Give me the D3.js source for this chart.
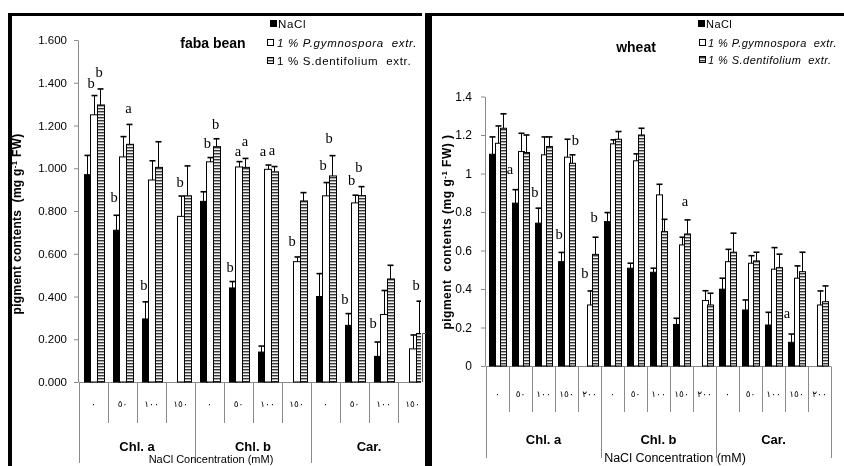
<!DOCTYPE html>
<html><head><meta charset="utf-8">
<script src="https://cdn.jsdelivr.net/npm/d3@7"></script>
<style>body{margin:0;background:#fff} svg{display:block;filter:grayscale(100%)} text{white-space:pre}</style>
</head><body>
<svg id="c" width="844" height="466"></svg>
<script>
// ---------- DATA ----------
const groups = ["Chl. a", "Chl. b", "Car."];
const fabaLevels = ["٠", "٥٠", "١٠٠", "١٥٠"];
const wheatLevels = ["٠", "٥٠", "١٠٠", "١٥٠", "٢٠٠"];
const seriesNames = ["NaCl", "1 % P.gymnospora  extr.", "1 % S.dentifolium  extr."];
const fabaTicks = [0, 0.2, 0.4, 0.6, 0.8, 1.0, 1.2, 1.4, 1.6];
const wheatTicks = [0, 0.2, 0.4, 0.6, 0.8, 1, 1.2, 1.4];

// faba bean: 12 categories (Chl.a 0..150, Chl.b 0..150, Car. 0..150)
const fabaNaCl     = [0.970, 0.710, 0.295, null, 0.845, 0.440, 0.140, null, 0.400, 0.265, 0.120, null];
const fabaNaClErr  = [0.090, 0.070, 0.080, null, 0.045, 0.030, 0.028, null, 0.107, 0.055, 0.067, null];
const fabaPgym     = [1.250, 1.053, 0.945, 0.775, 1.030, 1.006, 0.995, 0.563, 0.871, 0.838, 0.316, 0.155];
const fabaPgymErr  = [0.090, 0.095, 0.090, 0.095, 0.020, 0.025, 0.020, 0.022, 0.062, 0.036, 0.112, 0.065];
const fabaSden     = [1.296, 1.112, 1.004, 0.871, 1.101, 1.004, 0.983, 0.847, 0.964, 0.872, 0.482, 0.227];
const fabaSdenErr  = [0.075, 0.093, 0.120, 0.140, 0.037, 0.042, 0.025, 0.039, 0.095, 0.042, 0.064, 0.151];
// significance letters: [position in category units, value, letter]
const fabaLetters = [
  [0.414, 1.375, "b"], [0.690, 1.427, "b"], [1.207, 0.842, "b"], [1.707, 1.260, "a"],
  [2.241, 0.430, "b"], [3.483, 0.912, "b"], [4.431, 1.096, "b"], [4.707, 1.184, "b"],
  [5.207, 0.516, "b"], [5.483, 1.057, "a"], [5.724, 1.102, "a"], [6.345, 1.057, "a"],
  [6.655, 1.062, "a"], [7.345, 0.638, "b"], [8.414, 0.992, "b"], [8.621, 1.118, "b"],
  [9.172, 0.365, "b"], [9.397, 0.922, "b"], [9.655, 0.984, "b"], [10.138, 0.253, "b"],
  [11.621, 0.430, "b"]
];

// wheat: 15 categories (Chl.a 0..200, Chl.b 0..200, Car. 0..200)
const wheatNaCl    = [1.100, 0.846, 0.742, 0.542, null, 0.750, 0.508, 0.487, 0.216, null, 0.399, 0.291, 0.213, 0.123, null];
const wheatNaClErr = [0.090, 0.070, 0.078, 0.048, null, 0.047, 0.026, 0.021, 0.032, null, 0.057, 0.052, 0.066, 0.043, null];
const wheatPgym    = [1.157, 1.114, 1.097, 1.085, 0.317, 1.154, 1.066, 0.889, 0.629, 0.340, 0.542, 0.534, 0.503, 0.456, 0.317];
const wheatPgymErr = [0.090, 0.095, 0.093, 0.093, 0.073, 0.021, 0.036, 0.055, 0.040, 0.051, 0.064, 0.039, 0.112, 0.064, 0.073];
const wheatSden    = [1.235, 1.109, 1.140, 1.053, 0.580, 1.178, 1.200, 0.698, 0.686, 0.317, 0.591, 0.546, 0.511, 0.490, 0.334];
const wheatSdenErr = [0.075, 0.091, 0.050, 0.044, 0.089, 0.040, 0.035, 0.064, 0.073, 0.061, 0.099, 0.045, 0.070, 0.101, 0.082];
const wheatLetters = [
  [1.043, 1.000, "a"], [2.130, 0.878, "b"], [3.174, 0.660, "b"], [3.891, 1.149, "b"],
  [4.304, 0.457, "b"], [4.696, 0.748, "b"], [5.652, 0.294, "a"], [8.652, 0.831, "a"],
  [13.087, 0.247, "a"]
];

// ---------- DRAWING ----------
const svg = d3.select("#c");
const AX = "#8a8a8a";
const SANS = "'Liberation Sans', Arial, sans-serif";
const SERIF = "'Liberation Serif', 'Times New Roman', serif";

const defs = svg.append("defs");
const pat = defs.append("pattern").attr("id", "stripes").attr("patternUnits", "userSpaceOnUse")
  .attr("width", 8).attr("height", 3);
pat.append("rect").attr("width", 8).attr("height", 3).attr("fill", "#f0f0f0");
pat.append("rect").attr("y", 0).attr("width", 8).attr("height", 1).attr("fill", "#383838");
pat.append("rect").attr("y", 1).attr("width", 8).attr("height", 1).attr("fill", "#a8a8a8");
defs.append("clipPath").attr("id", "clipL").append("rect")
  .attr("x", 0).attr("y", 0).attr("width", 421).attr("height", 466);

const fills = ["#000", "#fff", "url(#stripes)"];

function drawPanel(cfg) {
  const g = svg.append("g");
  if (cfg.clip) g.attr("clip-path", `url(#${cfg.clip})`);
  const nL = cfg.levels.length, n = groups.length * nL;
  const x = d3.scaleBand().domain(d3.range(n)).range([cfg.x0, cfg.x0 + n * cfg.step]);
  const xs = d3.scaleBand().domain([0, 1, 2]).range([0, x.bandwidth()]).paddingOuter(cfg.outer);
  const xa = d3.scaleLinear().domain([0, n]).range(x.range());
  const y = d3.scaleLinear().domain([0, cfg.max]).range([cfg.y0, cfg.y1]);

  // y axis
  const ax = g.append("g").attr("transform", `translate(${cfg.x0 - 1},0)`)
    .call(d3.axisLeft(y).tickValues(cfg.ticks).tickFormat(cfg.fmt)
      .tickSize(4).tickSizeOuter(0).tickPadding(cfg.tickPad));
  ax.attr("font-family", SANS).attr("font-size", cfg.tickFont);
  ax.selectAll("path,line").attr("stroke", AX);
  ax.selectAll("text").attr("fill", "#000");

  // category box lines
  const y0 = Math.round(y(0)) + 0.5;
  g.append("line").attr("x1", cfg.x0).attr("x2", cfg.x0 + n * cfg.step)
    .attr("y1", y0).attr("y2", y0).attr("stroke", AX);
  g.selectAll(".sep").data(d3.range(n + 1)).join("line")
    .attr("x1", i => Math.round(xa(i)) + 0.5).attr("x2", i => Math.round(xa(i)) + 0.5)
    .attr("y1", y0).attr("y2", i => i % nL === 0 ? cfg.majorEnd : cfg.minorEnd)
    .attr("stroke", AX);

  // level labels
  g.selectAll(".lvl").data(d3.range(n)).join("text")
    .attr("x", i => x(i) + x.bandwidth() / 2).attr("y", cfg.lvlY)
    .attr("text-anchor", "middle").attr("font-family", "'DejaVu Sans', sans-serif")
    .attr("font-size", 9).text(i => cfg.levels[i % nL]);

  // group labels
  g.selectAll(".grp").data(groups).join("text")
    .attr("x", (d, k) => (xa(k * nL) + xa((k + 1) * nL)) / 2).attr("y", cfg.grpY)
    .attr("text-anchor", "middle").attr("font-family", SANS).attr("font-weight", "bold")
    .attr("font-size", 13).text(d => d);

  // axis title
  g.append("text").attr("x", cfg.xTitleX).attr("y", cfg.xTitleY).attr("text-anchor", "middle")
    .attr("font-family", SANS).attr("font-size", cfg.xTitleFont).text("NaCl Concentration (mM)");

  // letters (behind bars)
  g.append("g").selectAll("text").data(cfg.letters).join("text")
    .attr("x", d => xa(d[0])).attr("y", d => y(d[1]))
    .attr("text-anchor", "middle").attr("font-family", SERIF).attr("font-size", 14.5)
    .attr("fill", "#000").text(d => d[2]);

  // bars + error bars
  cfg.series.forEach((vals, s) => {
    const errs = cfg.errors[s];
    const items = vals.map((v, i) => ({ i, v, e: errs[i] })).filter(d => d.v != null);
    g.selectAll(`.bar${s}`).data(items).join("rect")
      .attr("x", d => Math.round(x(d.i) + xs(s)) + 0.5)
      .attr("width", Math.round(xs.bandwidth()))
      .attr("y", d => y(d.v))
      .attr("height", d => y(0) - y(d.v))
      .attr("fill", fills[s]).attr("stroke", "#000").attr("stroke-width", 1);
    const cx = d => Math.round(x(d.i) + xs(s) + xs.bandwidth() / 2) + 0.5;
    g.selectAll(`.eb${s}`).data(items).join("line")
      .attr("x1", cx).attr("x2", cx)
      .attr("y1", d => y(d.v)).attr("y2", d => y(d.v + d.e))
      .attr("stroke", "#000").attr("stroke-width", 1);
    g.selectAll(`.ec${s}`).data(items).join("line")
      .attr("x1", d => cx(d) - 3).attr("x2", d => cx(d) + 3)
      .attr("y1", d => y(d.v + d.e)).attr("y2", d => y(d.v + d.e))
      .attr("stroke", "#000").attr("stroke-width", 1.6);
  });

  // title
  g.append("text").attr("x", cfg.titleX).attr("y", cfg.titleY).attr("text-anchor", "middle")
    .attr("font-family", SANS).attr("font-weight", "bold").attr("font-size", 14).text(cfg.title);

  // y title
  const yt = g.append("text").attr("transform", `translate(${cfg.yTitleX},${cfg.yTitleY}) rotate(-90)`)
    .attr("text-anchor", "middle").attr("font-family", SANS).attr("font-weight", "bold")
    .attr("font-size", cfg.yTitleFont).attr("letter-spacing", cfg.yTitleLS);
  yt.append("tspan").text(cfg.yTitle[0]);
  yt.append("tspan").attr("dy", -4).attr("font-size", cfg.yTitleFont * 0.65).text("-1");
  yt.append("tspan").attr("dy", 4).text(cfg.yTitle[1]);

  // legend
  cfg.legend.forEach((L, s) => {
    g.append("rect").attr("x", L.sx + 0.5).attr("y", L.y - 7.5).attr("width", 6).attr("height", 6)
      .attr("fill", fills[s]).attr("stroke", "#000");
    g.append("text").attr("x", L.tx).attr("y", L.y).attr("font-family", SANS)
      .attr("font-size", cfg.legFont).attr("letter-spacing", cfg.legLS)
      .attr("font-style", L.italic ? "italic" : "normal").text(seriesNames[s]);
  });
}

drawPanel({
  clip: "clipL", levels: fabaLevels, x0: 79, step: 29, outer: 0.675,
  max: 1.6, y0: 382, y1: 40, ticks: fabaTicks, fmt: d3.format(".3f"), tickFont: 11.5, tickPad: 7,
  majorEnd: 463, minorEnd: 423, lvlY: 407, grpY: 451,
  xTitleX: 211, xTitleY: 463, xTitleFont: 11,
  letters: fabaLetters,
  series: [fabaNaCl, fabaPgym, fabaSden], errors: [fabaNaClErr, fabaPgymErr, fabaSdenErr],
  title: "faba bean", titleX: 213, titleY: 48,
  yTitle: ["pigment contents  (mg g", " FW)"], yTitleX: 21, yTitleY: 224, yTitleFont: 12, yTitleLS: 0.3,
  legFont: 11.5, legLS: 0.7,
  legend: [{ sx: 270, tx: 278, y: 28, italic: false }, { sx: 267, tx: 277, y: 47, italic: true },
           { sx: 267, tx: 277, y: 65, italic: false }]
});

drawPanel({
  clip: null, levels: wheatLevels, x0: 486, step: 23, outer: 0.42,
  max: 1.4, y0: 366, y1: 96.5, ticks: wheatTicks, fmt: d3.format("~g"), tickFont: 12, tickPad: 9,
  majorEnd: 458, minorEnd: 412, lvlY: 397, grpY: 444,
  xTitleX: 675, xTitleY: 462, xTitleFont: 12.5,
  letters: wheatLetters,
  series: [wheatNaCl, wheatPgym, wheatSden], errors: [wheatNaClErr, wheatPgymErr, wheatSdenErr],
  title: "wheat", titleX: 636, titleY: 52,
  yTitle: ["pigment  contents (mg g", " FW) )"], yTitleX: 451, yTitleY: 232, yTitleFont: 12, yTitleLS: 0.5,
  legFont: 11, legLS: 0.45,
  legend: [{ sx: 698, tx: 706, y: 28, italic: false }, { sx: 699, tx: 708, y: 47, italic: true },
           { sx: 699, tx: 708, y: 64, italic: true }]
});

// panel frames
svg.append("rect").attr("x", 8).attr("y", 13).attr("width", 414).attr("height", 3).attr("fill", "#000");
svg.append("rect").attr("x", 8).attr("y", 13).attr("width", 4).attr("height", 453).attr("fill", "#000");
svg.append("rect").attr("x", 425).attr("y", 13).attr("width", 419).attr("height", 3).attr("fill", "#000");
svg.append("rect").attr("x", 425).attr("y", 13).attr("width", 7).attr("height", 453).attr("fill", "#000");
svg.append("path").attr("d", "M426,333.5H422.5V382").attr("fill", "none").attr("stroke", "#555");
</script>
</body></html>
